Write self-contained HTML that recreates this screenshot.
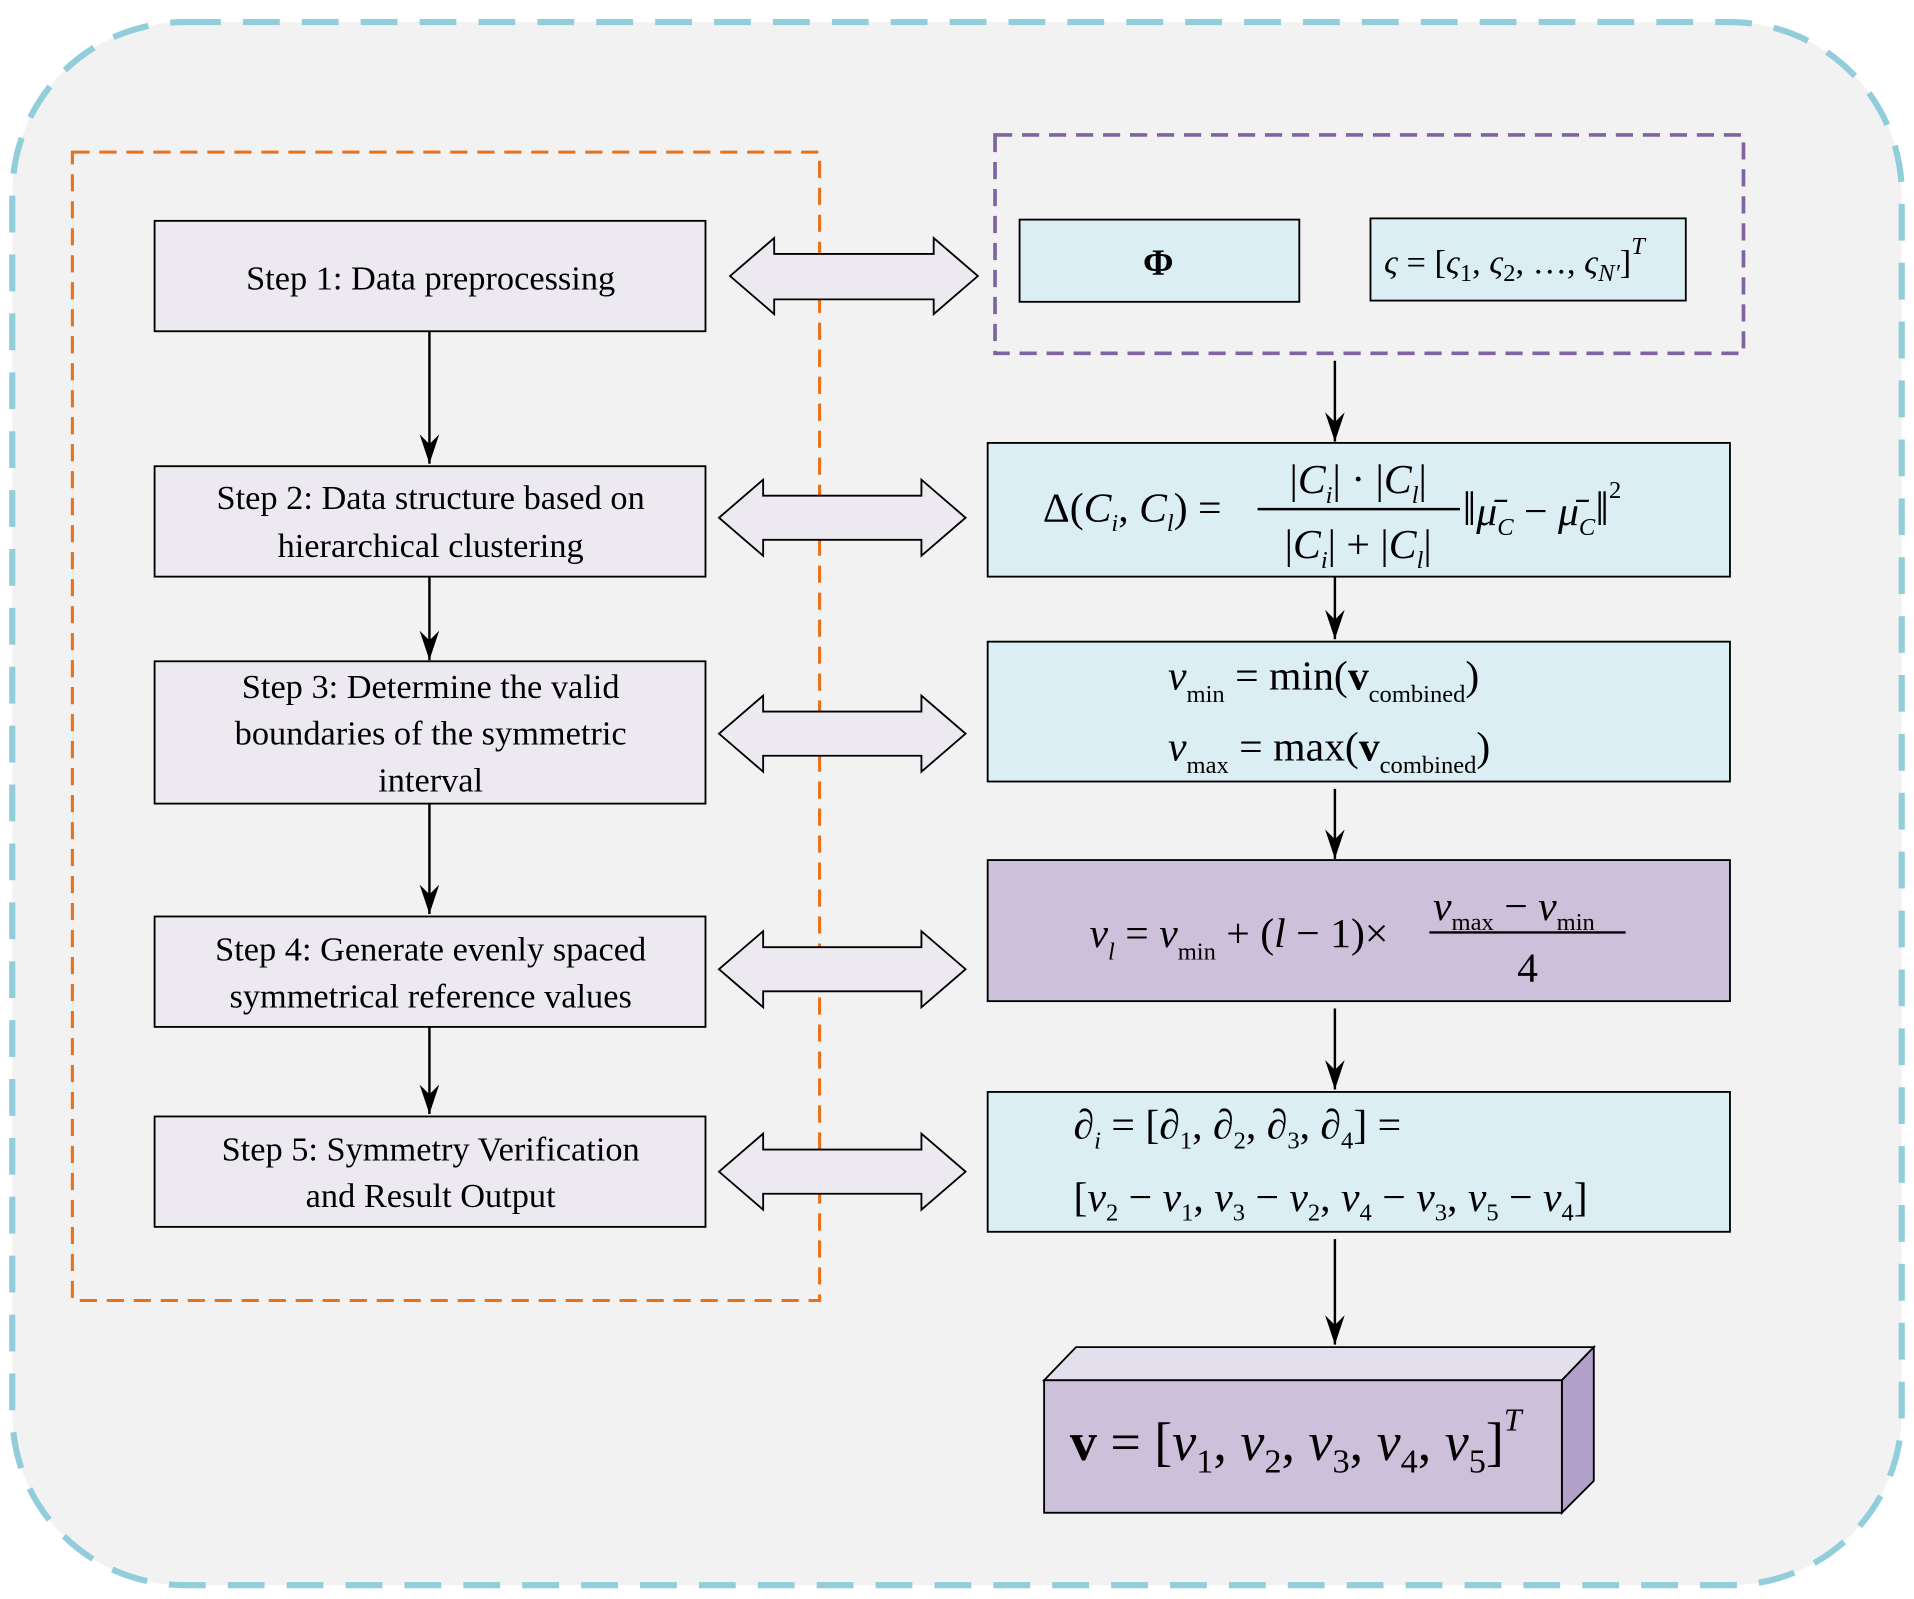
<!DOCTYPE html>
<html><head><meta charset="utf-8"><style>
html,body{margin:0;padding:0;background:#fff}
svg{display:block}
text{font-family:"Liberation Serif","Times New Roman","DejaVu Serif",serif;fill:#000}
.s{font-size:28px}
.m{font-size:34px}
.i{font-style:italic}
.sub{font-size:20px}
</style></head><body>
<svg width="1914" height="1599" viewBox="0 0 1560 1303.3" preserveAspectRatio="none" xmlns="http://www.w3.org/2000/svg" font-family="Liberation Serif, serif">
<defs>
<marker id="ah" markerWidth="16" markerHeight="26" refX="8" refY="24" orient="0" markerUnits="userSpaceOnUse">
<path d="M0,0 L8,24 L16,0 L8,8 Z" fill="#000"/>
</marker>
</defs>
<rect x="10" y="18" width="1540" height="1274" rx="140" ry="140" fill="#f2f2f2" stroke="#92CDDB" stroke-width="5" stroke-dasharray="30 18"/>
<rect x="59" y="124" width="609" height="936" fill="none" stroke="#E8711A" stroke-width="2.5" stroke-dasharray="14 8"/>
<rect x="811" y="110" width="610" height="178" fill="none" stroke="#8064A2" stroke-width="3" stroke-dasharray="14 8"/>

<g fill="#ECEAF0" stroke="#000" stroke-width="1.5">
<rect x="126" y="180" width="449" height="90"/>
<rect x="126" y="380" width="449" height="90"/>
<rect x="126" y="539" width="449" height="116"/>
<rect x="126" y="747" width="449" height="90"/>
<rect x="126" y="910" width="449" height="90"/>
</g>
<g class="s" text-anchor="middle">
<text x="351" y="236">Step 1: Data preprocessing</text>
<text x="351" y="415">Step 2: Data structure based on</text>
<text x="351" y="454">hierarchical clustering</text>
<text x="351" y="569">Step 3: Determine the valid</text>
<text x="351" y="607">boundaries of the symmetric</text>
<text x="351" y="645">interval</text>
<text x="351" y="783">Step 4: Generate evenly spaced</text>
<text x="351" y="821">symmetrical reference values</text>
<text x="351" y="946">Step 5: Symmetry Verification</text>
<text x="351" y="984">and Result Output</text>
</g>

<g stroke="#000" stroke-width="2" marker-end="url(#ah)">
<line x1="350" y1="270" x2="350" y2="378"/>
<line x1="350" y1="470" x2="350" y2="538"/>
<line x1="350" y1="655" x2="350" y2="745"/>
<line x1="350" y1="837" x2="350" y2="908"/>
<line x1="1088" y1="294" x2="1088" y2="360"/>
<line x1="1088" y1="470" x2="1088" y2="521"/>
<line x1="1088" y1="643" x2="1088" y2="700"/>
<line x1="1088" y1="822" x2="1088" y2="888"/>
<line x1="1088" y1="1010" x2="1088" y2="1096"/>
</g>

<g fill="#ECEAF0" stroke="#000" stroke-width="1.5">
<polygon points="595,225 631,194 631,207 761,207 761,194 797,225 761,256 761,244 631,244 631,256"/>
<polygon points="586,422 622,391 622,404 751,404 751,391 787,422 751,453 751,440 622,440 622,453"/>
<polygon points="586,598 622,567 622,580 751,580 751,567 787,598 751,629 751,616 622,616 622,629"/>
<polygon points="586,790 622,759 622,772 751,772 751,759 787,790 751,821 751,808 622,808 622,821"/>
<polygon points="586,955 622,924 622,937 751,937 751,924 787,955 751,986 751,973 622,973 622,986"/>
</g>

<g stroke="#000" stroke-width="1.5">
<rect x="831" y="179" width="228" height="67" fill="#DAEEF3"/>
<rect x="1117" y="178" width="257" height="67" fill="#DAEEF3"/>
<rect x="805" y="361" width="605" height="109" fill="#DAEEF3"/>
<rect x="805" y="523" width="605" height="114" fill="#DAEEF3"/>
<rect x="805" y="701" width="605" height="115" fill="#CCC0DA"/>
<rect x="805" y="890" width="605" height="114" fill="#DAEEF3"/>
<polygon points="851,1125 877,1098 1299,1098 1273,1125" fill="#E4DFEC"/>
<polygon points="1273,1125 1299,1098 1299,1207 1273,1233" fill="#B1A0C7"/>
<rect x="851" y="1125" width="422" height="108" fill="#CCC0DA"/>
</g>

<text x="944" y="224" text-anchor="middle" font-size="30" font-weight="bold">Φ</text>
<text x="1128" y="223" font-size="28"><tspan class="i">ς</tspan> = [<tspan class="i">ς</tspan><tspan class="sub" dy="6">1</tspan><tspan dy="-6">, </tspan><tspan class="i">ς</tspan><tspan class="sub" dy="6">2</tspan><tspan dy="-6">, …, </tspan><tspan class="i">ς</tspan><tspan class="sub i" dy="6">N′</tspan><tspan dy="-6">]</tspan><tspan class="sub i" dy="-16">T</tspan></text>

<g class="m">
<text x="850" y="425">Δ(<tspan class="i">C</tspan><tspan class="sub i" dy="8">i</tspan><tspan dy="-8">, </tspan><tspan class="i">C</tspan><tspan class="sub i" dy="8">l</tspan><tspan dy="-8">) =</tspan></text>
<line x1="1025" y1="415" x2="1190" y2="415" stroke="#000" stroke-width="2"/>
<text x="1107" y="402" text-anchor="middle">|<tspan class="i">C</tspan><tspan class="sub i" dy="8">i</tspan><tspan dy="-8">| · |</tspan><tspan class="i">C</tspan><tspan class="sub i" dy="8">l</tspan><tspan dy="-8">|</tspan></text>
<text x="1107" y="455" text-anchor="middle">|<tspan class="i">C</tspan><tspan class="sub i" dy="8">i</tspan><tspan dy="-8">| + |</tspan><tspan class="i">C</tspan><tspan class="sub i" dy="8">l</tspan><tspan dy="-8">|</tspan></text>
<text x="1192" y="428" font-size="40">‖<tspan class="i" font-size="34">μ̄</tspan><tspan class="sub i" dy="8">C</tspan><tspan dy="-8" font-size="34"> − </tspan><tspan class="i" font-size="34">μ̄</tspan><tspan class="sub i" dy="8">C</tspan><tspan dy="-8">‖</tspan><tspan class="sub" dy="-22">2</tspan></text>

<text x="952" y="562"><tspan class="i">ν</tspan><tspan class="sub" dy="10">min</tspan><tspan dy="-10"> = min(</tspan><tspan font-weight="bold">v</tspan><tspan class="sub" dy="10">combined</tspan><tspan dy="-10">)</tspan></text>
<text x="952" y="620"><tspan class="i">ν</tspan><tspan class="sub" dy="10">max</tspan><tspan dy="-10"> = max(</tspan><tspan font-weight="bold">v</tspan><tspan class="sub" dy="10">combined</tspan><tspan dy="-10">)</tspan></text>

<text x="888" y="772"><tspan class="i">ν</tspan><tspan class="sub i" dy="10">l</tspan><tspan dy="-10"> = </tspan><tspan class="i">ν</tspan><tspan class="sub" dy="10">min</tspan><tspan dy="-10"> + (</tspan><tspan class="i">l</tspan><tspan> − 1)×</tspan></text>
<text x="1168" y="750"><tspan class="i">ν</tspan><tspan class="sub" dy="8">max</tspan><tspan dy="-8"> − </tspan><tspan class="i">ν</tspan><tspan class="sub" dy="8">min</tspan></text>
<line x1="1165" y1="760" x2="1325" y2="760" stroke="#000" stroke-width="2"/>
<text x="1245" y="800" text-anchor="middle">4</text>

<text x="875" y="928">∂<tspan class="sub i" dy="8">i</tspan><tspan dy="-8"> = [∂</tspan><tspan class="sub" dy="8">1</tspan><tspan dy="-8">, ∂</tspan><tspan class="sub" dy="8">2</tspan><tspan dy="-8">, ∂</tspan><tspan class="sub" dy="8">3</tspan><tspan dy="-8">, ∂</tspan><tspan class="sub" dy="8">4</tspan><tspan dy="-8">] =</tspan></text>
<text x="875" y="987">[<tspan class="i">ν</tspan><tspan class="sub" dy="8">2</tspan><tspan dy="-8"> − </tspan><tspan class="i">ν</tspan><tspan class="sub" dy="8">1</tspan><tspan dy="-8">, </tspan><tspan class="i">ν</tspan><tspan class="sub" dy="8">3</tspan><tspan dy="-8"> − </tspan><tspan class="i">ν</tspan><tspan class="sub" dy="8">2</tspan><tspan dy="-8">, </tspan><tspan class="i">ν</tspan><tspan class="sub" dy="8">4</tspan><tspan dy="-8"> − </tspan><tspan class="i">ν</tspan><tspan class="sub" dy="8">3</tspan><tspan dy="-8">, </tspan><tspan class="i">ν</tspan><tspan class="sub" dy="8">5</tspan><tspan dy="-8"> − </tspan><tspan class="i">ν</tspan><tspan class="sub" dy="8">4</tspan><tspan dy="-8">]</tspan></text>
</g>

<text x="872" y="1190" font-size="44"><tspan font-weight="bold">v</tspan> = [<tspan class="i">ν</tspan><tspan font-size="28" dy="10">1</tspan><tspan dy="-10">, </tspan><tspan class="i">ν</tspan><tspan font-size="28" dy="10">2</tspan><tspan dy="-10">, </tspan><tspan class="i">ν</tspan><tspan font-size="28" dy="10">3</tspan><tspan dy="-10">, </tspan><tspan class="i">ν</tspan><tspan font-size="28" dy="10">4</tspan><tspan dy="-10">, </tspan><tspan class="i">ν</tspan><tspan font-size="28" dy="10">5</tspan><tspan dy="-10">]</tspan><tspan font-size="26" class="i" dy="-24">T</tspan></text>
</svg>
</body></html>
